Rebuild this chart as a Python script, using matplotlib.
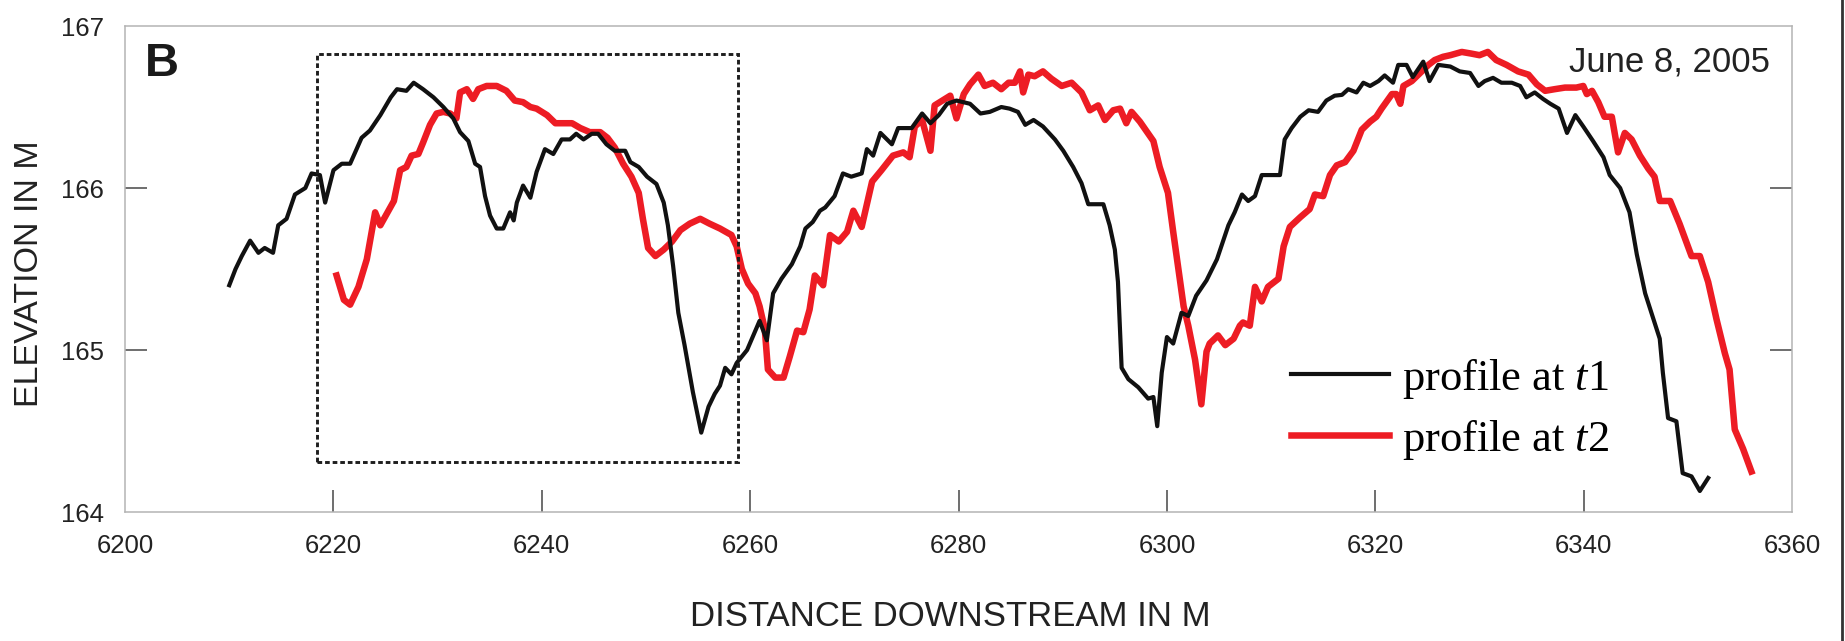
import matplotlib
matplotlib.use("Agg")
import matplotlib.pyplot as plt
from matplotlib.patches import Rectangle
from matplotlib.lines import Line2D

plt.rcParams['font.family'] = ['Liberation Sans', 'DejaVu Sans']
plt.rcParams['mathtext.fontset'] = 'custom'
plt.rcParams['mathtext.rm'] = 'Liberation Serif'
plt.rcParams['mathtext.it'] = 'Liberation Serif:italic'

# profile at t1 (black)
dist_t1 = [6210.0, 6210.6, 6211.2, 6212.0, 6212.8, 6213.4, 6214.2, 6214.7, 6215.5, 6216.3,
           6217.3, 6217.9, 6218.7, 6219.2, 6220.0, 6220.8, 6221.6, 6222.7, 6223.5, 6224.5,
           6225.5, 6226.1, 6227.0, 6227.7, 6228.6, 6229.6, 6230.55, 6231.5, 6232.15, 6232.95,
           6233.6, 6234.07, 6234.55, 6235.03, 6235.67, 6236.3, 6236.95, 6237.3, 6237.6, 6238.2,
           6238.9, 6239.5, 6240.3, 6241.1, 6241.9, 6242.7, 6243.3, 6244.0, 6244.8, 6245.4,
           6246.2, 6247.0, 6248.0, 6248.5, 6249.3, 6250.1, 6251.0, 6251.7, 6252.1, 6252.6,
           6253.1, 6253.7, 6254.5, 6255.3, 6256.0, 6256.6, 6257.1, 6257.6, 6258.2, 6258.7,
           6259.7, 6260.3, 6260.9, 6261.6, 6262.2, 6263.0, 6264.0, 6264.8, 6265.3, 6266.0,
           6266.7, 6267.2, 6268.1, 6268.9, 6269.7, 6270.7, 6271.2, 6271.8, 6272.5, 6273.6,
           6274.2, 6275.5, 6276.5, 6277.3, 6278.1, 6278.9, 6279.8, 6281.1, 6282.1, 6283.0,
           6284.1, 6284.9, 6285.7, 6286.4, 6287.2, 6288.1, 6289.25, 6290.05, 6291.0, 6291.8,
           6292.45, 6293.9, 6294.5, 6295.0, 6295.3, 6295.65, 6296.3, 6297.25, 6298.2, 6298.7,
           6299.07, 6299.5, 6300.0, 6300.6, 6301.4, 6302.05, 6302.8, 6303.8, 6304.8, 6305.9,
           6306.5, 6307.2, 6307.8, 6308.45, 6309.1, 6309.9, 6310.85, 6311.3, 6311.97, 6312.8,
           6313.6, 6314.5, 6315.3, 6316.1, 6316.8, 6317.4, 6318.2, 6318.85, 6319.5, 6320.3,
           6320.9, 6321.7, 6322.2, 6323.0, 6323.6, 6324.6, 6325.2, 6326.05, 6327.2, 6328.1,
           6329.1, 6329.9, 6330.5, 6331.3, 6332.1, 6333.1, 6333.9, 6334.5, 6335.3, 6336.1,
           6336.8, 6337.6, 6338.4, 6339.2, 6339.96, 6340.9, 6341.9, 6342.5, 6343.5, 6344.4,
           6345.1, 6345.9, 6346.7, 6347.3, 6347.6, 6348.1, 6348.9, 6349.5, 6350.35, 6351.15,
           6351.95]
elev_t1 = [165.40, 165.50, 165.58, 165.675, 165.60, 165.63, 165.60, 165.77, 165.81, 165.96,
           166.00, 166.09, 166.08, 165.91, 166.11, 166.15, 166.15, 166.31, 166.355, 166.45,
           166.56, 166.61, 166.60, 166.65, 166.61, 166.56, 166.50, 166.43, 166.345, 166.29,
           166.15, 166.13, 165.95, 165.83, 165.75, 165.75, 165.85, 165.80, 165.91, 166.015,
           165.94, 166.10, 166.24, 166.21, 166.30, 166.30, 166.335, 166.30, 166.335, 166.335,
           166.27, 166.23, 166.23, 166.16, 166.13, 166.07, 166.025, 165.91, 165.77, 165.52,
           165.23, 165.03, 164.74, 164.49, 164.65, 164.73, 164.78, 164.89, 164.85, 164.92,
           165.00, 165.09, 165.18, 165.06, 165.35, 165.44, 165.53, 165.64, 165.75, 165.79,
           165.86, 165.88, 165.95, 166.09, 166.07, 166.09, 166.24, 166.20, 166.34, 166.27,
           166.37, 166.37, 166.46, 166.40, 166.45, 166.52, 166.54, 166.52, 166.46, 166.47,
           166.50, 166.49, 166.47, 166.39, 166.42, 166.38, 166.30, 166.23, 166.13, 166.03,
           165.90, 165.90, 165.77, 165.62, 165.42, 164.89, 164.82, 164.77, 164.70, 164.71,
           164.53, 164.86, 165.08, 165.04, 165.23, 165.21, 165.335, 165.43, 165.56, 165.77,
           165.85, 165.96, 165.92, 165.95, 166.08, 166.08, 166.08, 166.30, 166.37, 166.44,
           166.48, 166.47, 166.54, 166.57, 166.575, 166.61, 166.59, 166.65, 166.63, 166.66,
           166.695, 166.65, 166.76, 166.76, 166.685, 166.78, 166.66, 166.76, 166.75, 166.72,
           166.71, 166.63, 166.66, 166.68, 166.65, 166.65, 166.63, 166.56, 166.59, 166.55,
           166.52, 166.49, 166.34, 166.45, 166.38, 166.29, 166.19, 166.08, 166.00, 165.85,
           165.59, 165.35, 165.19, 165.07, 164.86, 164.58, 164.56, 164.24, 164.22, 164.13,
           164.21]

# profile at t2 (red)
dist_t2 = [6220.3, 6221.0, 6221.6, 6222.4, 6223.2, 6224.0, 6224.5, 6225.8, 6226.4, 6227.0,
           6227.5, 6228.15, 6228.6, 6229.27, 6229.9, 6230.55, 6231.2, 6231.8, 6232.15, 6232.8,
           6233.4, 6233.9, 6234.7, 6235.67, 6236.6, 6237.4, 6238.2, 6238.9, 6239.5, 6240.5,
           6241.3, 6242.1, 6242.9, 6243.7, 6244.6, 6245.6, 6246.3, 6247.0, 6247.8, 6248.6,
           6249.3, 6249.7, 6250.2, 6250.9, 6251.7, 6252.5, 6253.3, 6254.2, 6255.2, 6256.1,
           6257.1, 6258.2, 6258.7, 6259.2, 6259.8, 6260.5, 6260.9, 6261.4, 6261.7, 6262.4,
           6263.2, 6263.8, 6264.5, 6265.1, 6265.7, 6266.2, 6267.0, 6267.66, 6268.5, 6269.3,
           6269.9, 6270.7, 6271.7, 6272.6, 6273.7, 6274.7, 6275.3, 6275.8, 6276.5, 6277.3,
           6277.7, 6278.7, 6279.2, 6279.8, 6280.5, 6281.1, 6281.9, 6282.5, 6283.3, 6284.1,
           6284.8, 6285.4, 6285.9, 6286.2, 6286.7, 6287.3, 6288.1, 6288.9, 6289.9, 6290.85,
           6291.8, 6292.6, 6293.4, 6294.05, 6294.85, 6295.5, 6296.1, 6296.6, 6297.4, 6298.7,
           6299.3, 6300.1, 6300.6, 6301.1, 6301.6, 6302.05, 6302.7, 6303.3, 6303.8, 6304.1,
           6304.9, 6305.6, 6306.4, 6307.0, 6307.3, 6307.95, 6308.45, 6309.1, 6309.7, 6310.7,
           6311.2, 6311.8, 6312.8, 6313.7, 6314.2, 6315.0, 6315.65, 6316.3, 6317.1, 6317.9,
           6318.7, 6319.5, 6320.1, 6320.6, 6321.6, 6322.0, 6322.4, 6322.7, 6323.5, 6324.3,
           6325.1, 6325.7, 6326.5, 6327.2, 6328.3, 6329.2, 6330.0, 6330.8, 6331.6, 6332.6,
           6333.7, 6334.7, 6335.5, 6336.3, 6337.2, 6338.2, 6339.3, 6339.96, 6340.3, 6340.8,
           6341.4, 6342.0, 6342.7, 6343.3, 6343.95, 6344.6, 6345.4, 6346.2, 6346.8, 6347.3,
           6348.3, 6349.2, 6350.35, 6351.15, 6351.95, 6352.75, 6353.55, 6354.0, 6354.5, 6355.3,
           6356.1]
elev_t2 = [165.46, 165.31, 165.28, 165.39, 165.56, 165.85, 165.77, 165.92, 166.11, 166.13,
           166.20, 166.21, 166.28, 166.39, 166.46, 166.47, 166.46, 166.43, 166.59, 166.61,
           166.55, 166.61, 166.63, 166.63, 166.60, 166.54, 166.53, 166.50, 166.49, 166.45,
           166.40, 166.40, 166.40, 166.37, 166.345, 166.345, 166.31, 166.25, 166.15, 166.07,
           165.97, 165.81, 165.63, 165.58, 165.62, 165.67, 165.74, 165.78, 165.81, 165.78,
           165.75, 165.71, 165.64, 165.50, 165.41, 165.35, 165.27, 165.13, 164.88, 164.83,
           164.83, 164.96, 165.12, 165.11, 165.25, 165.46, 165.40, 165.71, 165.67, 165.73,
           165.86, 165.76, 166.04, 166.11, 166.20, 166.22, 166.19, 166.38, 166.42, 166.23,
           166.51, 166.55, 166.57, 166.43, 166.58, 166.64, 166.70, 166.63, 166.65, 166.61,
           166.65, 166.65, 166.72, 166.59, 166.70, 166.69, 166.72, 166.675, 166.63, 166.65,
           166.59, 166.48, 166.51, 166.42, 166.48, 166.49, 166.40, 166.47, 166.41, 166.29,
           166.13, 165.97, 165.73, 165.50, 165.27, 165.15, 164.94, 164.665, 164.99, 165.04,
           165.09, 165.03, 165.07, 165.15, 165.17, 165.15, 165.39, 165.30, 165.39, 165.44,
           165.64, 165.76, 165.82, 165.87, 165.96, 165.95, 166.08, 166.14, 166.16, 166.23,
           166.36, 166.41, 166.44, 166.49, 166.58, 166.58, 166.52, 166.63, 166.66, 166.71,
           166.76, 166.79, 166.81, 166.82, 166.84, 166.83, 166.82, 166.84, 166.79, 166.76,
           166.72, 166.70, 166.64, 166.60, 166.61, 166.62, 166.62, 166.63, 166.58, 166.60,
           166.53, 166.44, 166.44, 166.22, 166.34, 166.30, 166.20, 166.12, 166.07, 165.92,
           165.92, 165.78, 165.58, 165.58, 165.42, 165.19, 164.98, 164.88, 164.51, 164.39,
           164.25]

# dotted box (x0, x1, y0, y1)
box_x = [6218.43, 6258.86]
box_y = [164.31, 166.83]

x_ticks = [6200, 6220, 6240, 6260, 6280, 6300, 6320, 6340, 6360]
y_ticks = [164, 165, 166, 167]

fig = plt.figure(figsize=(18.45, 6.41), dpi=100)
ax = fig.add_axes([0.0678, 0.2012, 0.9035, 0.7582])

ax.plot(dist_t1, elev_t1, color='#111111', lw=3.0, label='profile at $t$1', zorder=3)
ax.plot(dist_t2, elev_t2, color='#ed1c24', lw=4.7, label=r'profile at $\mathit{t2}$', zorder=2)

ax.add_patch(Rectangle((box_x[0], box_y[0]), box_x[1] - box_x[0], box_y[1] - box_y[0],
                       fill=False, ec='#1e1e1e', lw=2.1, ls=(0, (1.6, 1.0)), zorder=4))

ax.set_xlim(6200, 6360)
ax.set_ylim(164, 167)
ax.set_xticks(x_ticks)
ax.set_yticks(y_ticks)
ax.tick_params(axis='both', direction='in', length=16, width=1.2, color='#555555',
               labelsize=18.5, labelcolor='#222222')
ax.tick_params(axis='x', pad=16)
ax.tick_params(axis='y', pad=15, right=True)
for t in [ax.xaxis.get_major_ticks()[0], ax.xaxis.get_major_ticks()[-1]]:
    t.tick1line.set_visible(False)
for t in [ax.yaxis.get_major_ticks()[0], ax.yaxis.get_major_ticks()[-1]]:
    t.tick1line.set_visible(False)
    t.tick2line.set_visible(False)
for s in ax.spines.values():
    s.set_color('#b4b4b4')
    s.set_linewidth(1.1)

ax.set_xlabel('DISTANCE DOWNSTREAM IN M', fontsize=25, color='#222222', va='top')
ax.xaxis.set_label_coords(0.495, -0.181)
ax.set_ylabel('ELEVATION IN M', fontsize=24.5, color='#222222')
ax.yaxis.set_label_coords(-0.048, 0.49)

ax.text(0.012, 0.897, 'B', transform=ax.transAxes, fontsize=34, fontweight='bold',
        color='#1a1a1a', ha='left', va='baseline')
ax.text(0.987, 0.907, 'June 8, 2005', transform=ax.transAxes, fontsize=25,
        color='#222222', ha='right', va='baseline')

ax.legend(loc='center left', bbox_to_anchor=(0.6995, 0.211), frameon=False,
          prop={'family': 'Liberation Serif', 'size': 32}, handlelength=2.2,
          handletextpad=0.3, labelspacing=0.38, borderpad=0, borderaxespad=0)

# thin frame line at right edge of the figure
fig.add_artist(Line2D([0.9986, 0.9986], [0, 1], transform=fig.transFigure,
                      color='#333333', lw=2))

plt.savefig('out.png', dpi=100)
